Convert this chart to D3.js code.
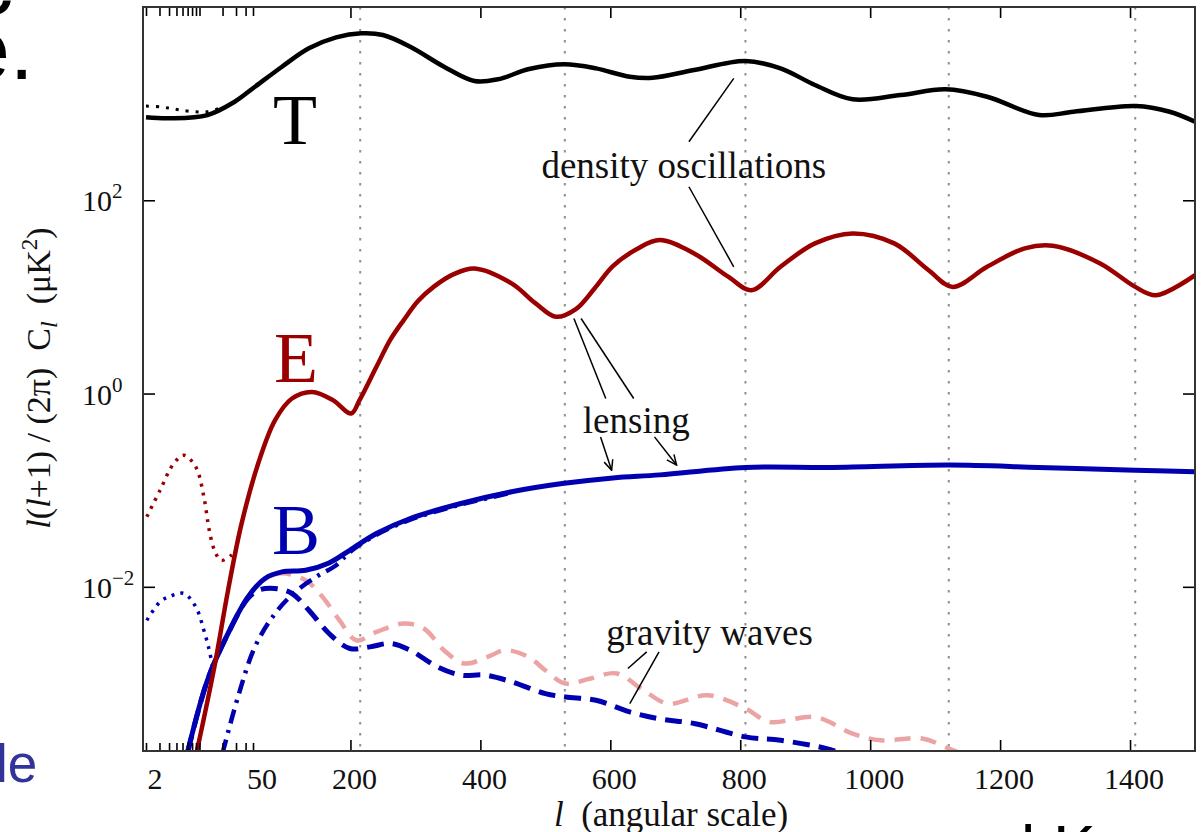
<!DOCTYPE html>
<html>
<head>
<meta charset="utf-8">
<script src="https://cdn.jsdelivr.net/npm/d3@7"></script>
<style>
  html, body { margin: 0; padding: 0; background: #fff; overflow: hidden; }
  svg { display: block; }
</style>
</head>
<body>
<div id="chart"></div>
<script>
// ---- CMB power spectra: multipole l vs l(l+1)C_l/2π in μK² ----

// temperature (T), solid
const tempEll   = [2, 4.1, 12.7, 28.8, 53, 94.6, 136, 178, 217, 250, 292, 344, 391, 427, 475, 529, 578, 630, 665, 729, 808, 862, 915, 973, 1047, 1116, 1180, 1260, 1313, 1409, 1461, 1500];
const tempPower = [721, 705, 762, 1047, 1496, 2410, 3735, 4850, 5340, 5130, 3880, 2410, 1714, 1786, 2280, 2550, 2317, 1897, 1850, 2228, 2761, 2317, 1560, 1109, 1228, 1406, 1178, 762, 824, 944, 824, 650];

// temperature, reionization variant at low l (dotted)
const tempLowEll   = [2, 3.05, 4.17, 5.6, 8.5, 12.7, 21];
const tempLowPower = [944, 929, 893, 859, 825, 825, 929];

// E-mode polarization, solid
const eEll   = [9, 15.7, 23.6, 35.2, 58, 84, 110, 141, 173, 201, 214, 240, 261, 282, 304, 328, 359, 391, 448, 485, 516, 547, 576, 604, 641, 676, 729, 782, 817, 862, 915, 973, 1037, 1090, 1127, 1180, 1238, 1281, 1354, 1408, 1440, 1500];
const ePower = [1.8e-4, 1.5e-3, 9.2e-3, 0.044, 0.189, 0.531, 0.888, 1.04, 0.855, 0.622, 0.855, 1.89, 3.57, 5.75, 9.06, 12.7, 17.2, 19.7, 13.8, 8.57, 6.23, 7.48, 12.3, 20.8, 31.3, 38.7, 28.2, 16.1, 11.7, 20.5, 35.8, 45.4, 35.8, 18.9, 12.7, 20.5, 31.8, 33.8, 22.2, 12.7, 10.4, 16.8];

// E-mode, reionization bump (dotted)
const eLowEll   = [2.05, 3.05, 4.61, 6.26, 8.94, 11.4, 13.4, 15.7, 19.1, 26.1, 30];
const eLowPower = [0.053, 0.1, 0.189, 0.23, 0.174, 0.0853, 0.0386, 0.0239, 0.0188, 0.0212, 0.025];

// B-mode from lensing, solid
const bEll   = [7, 12.7, 23.6, 43, 68.5, 94.6, 131, 167, 199, 240, 292, 370, 448, 526, 604, 676, 808, 941, 1122, 1259, 1408, 1500];
const bPower = [1.95e-4, 1.08e-3, 3.29e-3, 7.87e-3, 0.0122, 0.01426, 0.01485, 0.01767, 0.0239, 0.0356, 0.0509, 0.0728, 0.0962, 0.117, 0.134, 0.144, 0.172, 0.172, 0.182, 0.172, 0.161, 0.155];

// B-mode, reionization bump (dotted)
const bLowEll   = [2.05, 3.05, 4.17, 6.26, 8.94, 11.4, 13.4, 14.9];
const bLowPower = [4.5e-3, 6.98e-3, 8.0e-3, 8.53e-3, 6.2e-3, 3.56e-3, 2.21e-3, 1.48e-3];

// B-mode, dash-dot component
const bMixEll   = [20, 31.8, 53, 84, 115, 147, 178, 199, 240, 292, 370, 448];
const bMixPower = [1.9e-4, 7.24e-4, 2.39e-3, 5.3e-3, 8.85e-3, 0.01265, 0.01675, 0.0229, 0.0346, 0.0495, 0.071, 0.094];

// gravity waves, B-mode (blue dashed)
const gwBEll   = [7, 12.7, 23.6, 43, 60, 84, 110, 136, 167, 199, 230, 261, 292, 334, 370, 407, 448, 500, 531, 578, 630, 676, 729, 808, 862, 933, 960];
const gwBPower = [1.95e-4, 1.08e-3, 3.29e-3, 7.6e-3, 9.3e-3, 9.6e-3, 8.53e-3, 5.73e-3, 3.29e-3, 2.3e-3, 2.39e-3, 2.59e-3, 2.21e-3, 1.48e-3, 1.22e-3, 1.22e-3, 1.04e-3, 7.86e-4, 7.24e-4, 6.7e-4, 5.07e-4, 4.3e-4, 3.85e-4, 2.8e-4, 2.58e-4, 2.12e-4, 1.85e-4];

// gravity waves, E-mode (pink dashed)
const gwEEll   = [23.6, 43, 68.5, 95, 131, 157, 183, 209, 240, 282, 313, 344, 375, 411, 438, 474, 500, 531, 568, 610, 651, 689, 750, 808, 845, 915, 973, 1016, 1080, 1127, 1160];
const gwEPower = [3.29e-3, 7.87e-3, 0.0122, 0.0138, 0.0117, 7.87e-3, 4.51e-3, 2.8e-3, 3.41e-3, 4.17e-3, 3.7e-3, 2.21e-3, 1.61e-3, 1.88e-3, 2.21e-3, 1.88e-3, 1.37e-3, 9.97e-4, 1.12e-3, 1.27e-3, 8.5e-4, 6.19e-4, 7.55e-4, 5.5e-4, 4.0e-4, 4.5e-4, 3.03e-4, 2.58e-4, 2.69e-4, 2.04e-4, 1.7e-4];

// acoustic peak markers
const peakEll = [215, 530, 808, 1121, 1408];

// axis ticks
const xLogTicks    = [2, 3, 4, 5, 6, 7, 8, 9, 10, 20, 30, 40, 50];
const xLinTicks    = [200, 400, 600, 800, 1000, 1200, 1400];
const xLabelValues = [2, 50, 200, 400, 600, 800, 1000, 1200, 1400];
const yTickValues  = [1e-2, 1, 1e2];
const yTickExps    = ["\u22122", "0", "2"];

// ---- layout ----
const W = 1201, H = 832;
const box = { left: 143, right: 1195, top: 7, bottom: 751 };
const SERIF = "'Liberation Serif', 'Times New Roman', serif";
const SANS  = "'Liberation Sans', Arial, sans-serif";
const RED = "#9b0000", BLUE = "#0000b0", PINK = "#eba3a3";

// hybrid l axis: logarithmic up to l = 50, linear beyond
const xLog = d3.scaleLog().domain([2, 50]).range([146, 253]);
const xLin = d3.scaleLinear().domain([50, 1500]).range([253, box.right]);
const x = l => (l < 50 ? xLog(l) : xLin(l));
const y = d3.scaleLog().domain([2e-4, 1e4]).range([box.bottom, box.top]);

const svg = d3.select("#chart").append("svg").attr("width", W).attr("height", H);
const defs = svg.append("defs");
defs.append("clipPath").attr("id", "plot-clip").append("rect")
  .attr("x", box.left).attr("y", box.top)
  .attr("width", box.right - box.left).attr("height", box.bottom - box.top);
defs.append("marker").attr("id", "arrow")
  .attr("viewBox", "0 0 12 12").attr("refX", 11).attr("refY", 6)
  .attr("markerWidth", 12).attr("markerHeight", 12)
  .attr("markerUnits", "userSpaceOnUse").attr("orient", "auto")
  .append("path").attr("d", "M1,1.5 L11,6 L1,10.5")
  .attr("fill", "none").attr("stroke", "#000").attr("stroke-width", 1.5);

// ---- surrounding slide text ----
const slide = svg.append("g").attr("font-family", SANS);
slide.append("text").attr("x", -30).attr("y", 14).attr("font-size", 86).text("c");
slide.append("text").attr("x", -38).attr("y", 79).attr("font-size", 86).text("e.");
slide.append("text").attr("x", -4).attr("y", 782).attr("font-size", 53).attr("fill", "#333399").text("le");
slide.append("text").attr("x", 1021).attr("y", 871).attr("font-size", 64).style("white-space", "pre").text("l K");

// ---- plot area ----
const plot = svg.append("g").attr("clip-path", "url(#plot-clip)");

plot.selectAll("line.peak").data(peakEll).join("line")
  .attr("class", "peak")
  .attr("x1", d => x(d)).attr("x2", d => x(d))
  .attr("y1", box.top).attr("y2", box.bottom)
  .attr("stroke", "#8f8f8f").attr("stroke-width", 2).attr("stroke-dasharray", "2.5,8.5");

const line = d3.line().x(d => x(d[0])).y(d => y(d[1])).curve(d3.curveCatmullRom.alpha(0.5));
const zipSeries = (ls, vs) => ls.map((l, i) => [l, vs[i]]);

const series = [
  { ell: gwEEll,     val: gwEPower,     color: PINK,   width: 4.5, dash: "16,10" },
  { ell: gwBEll,     val: gwBPower,     color: BLUE,   width: 5,   dash: "17,9" },
  { ell: bMixEll,    val: bMixPower,    color: BLUE,   width: 4.5, dash: "14,7,3,7" },
  { ell: bEll,       val: bPower,       color: BLUE,   width: 5,   dash: null },
  { ell: bLowEll,    val: bLowPower,    color: BLUE,   width: 3.5, dash: "3,6" },
  { ell: eLowEll,    val: eLowPower,    color: RED,    width: 3.5, dash: "3,6" },
  { ell: eEll,       val: ePower,       color: RED,    width: 4.5, dash: null },
  { ell: tempLowEll, val: tempLowPower, color: "#000", width: 3,   dash: "3,7" },
  { ell: tempEll,    val: tempPower,    color: "#000", width: 4.5, dash: null }
];

plot.selectAll("path.spectrum").data(series).join("path")
  .attr("class", "spectrum")
  .attr("d", s => line(zipSeries(s.ell, s.val)))
  .attr("fill", "none")
  .attr("stroke", s => s.color)
  .attr("stroke-width", s => s.width)
  .attr("stroke-dasharray", s => s.dash)
  .attr("stroke-linejoin", "round");

// ---- frame and ticks ----
const axes = svg.append("g");
const tickAxis = (gen, tx, ty) => {
  const g = axes.append("g").attr("transform", `translate(${tx},${ty})`).call(gen);
  g.select(".domain").remove();
  g.selectAll(".tick line").attr("stroke", "#000").attr("stroke-width", 1.6);
  g.selectAll(".tick text").remove();
};
tickAxis(d3.axisBottom(xLog).tickValues(xLogTicks).tickSize(-8), 0, box.bottom);
tickAxis(d3.axisBottom(xLin).tickValues(xLinTicks).tickSize(-11), 0, box.bottom);
tickAxis(d3.axisTop(xLog).tickValues(xLogTicks).tickSize(-9), 0, box.top);
tickAxis(d3.axisTop(xLin).tickValues(xLinTicks).tickSize(-11), 0, box.top);
tickAxis(d3.axisLeft(y).tickValues(yTickValues).tickSize(-12), box.left, 0);
tickAxis(d3.axisRight(y).tickValues(yTickValues).tickSize(-12), box.right, 0);

axes.append("rect")
  .attr("x", box.left).attr("y", box.top)
  .attr("width", box.right - box.left).attr("height", box.bottom - box.top)
  .attr("fill", "none").attr("stroke", "#333").attr("stroke-width", 2);

// x tick labels
const labels = svg.append("g").attr("font-family", SERIF).attr("fill", "#111");
labels.selectAll("text.xl").data(xLabelValues).join("text")
  .attr("class", "xl")
  .attr("x", d => x(d) + (d <= 50 ? 9 : 4))
  .attr("y", 789)
  .attr("text-anchor", "middle").attr("font-size", 30)
  .text(d => d);

// y tick labels: 10 with exponent
const yl = labels.selectAll("text.yl").data(yTickValues).join("text")
  .attr("class", "yl")
  .attr("x", 82).attr("y", d => y(d) + 11)
  .attr("font-size", 30);
yl.append("tspan").text("10");
yl.append("tspan").attr("dy", -13).attr("font-size", 21).text((d, i) => yTickExps[i]);

// axis titles
const xt = labels.append("text")
  .attr("x", 671).attr("y", 826).attr("text-anchor", "middle")
  .attr("font-size", 35).style("white-space", "pre");
xt.append("tspan").attr("font-style", "italic").text("l");
xt.append("tspan").text("  (angular scale)");

const yt = labels.append("text")
  .attr("transform", "translate(50,378) rotate(-90)")
  .attr("text-anchor", "middle").attr("font-size", 34).style("white-space", "pre");
yt.append("tspan").attr("font-style", "italic").text("l");
yt.append("tspan").text("(");
yt.append("tspan").attr("font-style", "italic").text("l");
yt.append("tspan").text("+1) / (2\u03c0)  C");
yt.append("tspan").attr("font-style", "italic").attr("font-size", 24).attr("dy", 7).text("l");
yt.append("tspan").attr("dy", -7).text("  (\u03bcK");
yt.append("tspan").attr("font-size", 23).attr("dy", -13).text("2");
yt.append("tspan").attr("dy", 13).text(")");

// ---- series letters ----
const letters = svg.append("g").attr("font-family", SERIF).attr("font-size", 72).attr("text-anchor", "middle");
letters.append("text").attr("x", 295).attr("y", 144).attr("fill", "#000").text("T");
letters.append("text").attr("x", 296).attr("y", 382).attr("fill", RED).text("E");
letters.append("text").attr("x", 296).attr("y", 554).attr("fill", BLUE).text("B");

// ---- annotations (anchored in data coordinates) ----
const notes = svg.append("g").attr("font-family", SERIF).attr("font-size", 37).attr("fill", "#111");
const leader = (a, b, arrow) => {
  const ln = notes.append("line")
    .attr("x1", x(a[0])).attr("y1", y(a[1]))
    .attr("x2", x(b[0])).attr("y2", y(b[1]))
    .attr("stroke", "#000").attr("stroke-width", 1.5);
  if (arrow) ln.attr("marker-end", "url(#arrow)");
};

notes.append("text").attr("x", x(494)).attr("y", y(169)).text("density oscillations");
leader([721, 403], [790, 1828]);
leader([721, 138], [790, 20.5]);

notes.append("text").attr("x", x(557.7)).attr("y", y(0.386)).text("lensing");
leader([593, 0.889], [544, 5.98]);
leader([636, 0.889], [555, 5.98]);
leader([585, 0.356], [602, 0.161], true);
leader([668, 0.356], [702, 0.182], true);

notes.append("text").attr("x", x(593.8)).attr("y", y(2.48e-3)).text("gravity waves");
leader([656, 2.12e-3], [627, 1.43e-3]);
leader([675, 2.12e-3], [630, 6.2e-4]);
</script>
</body>
</html>
